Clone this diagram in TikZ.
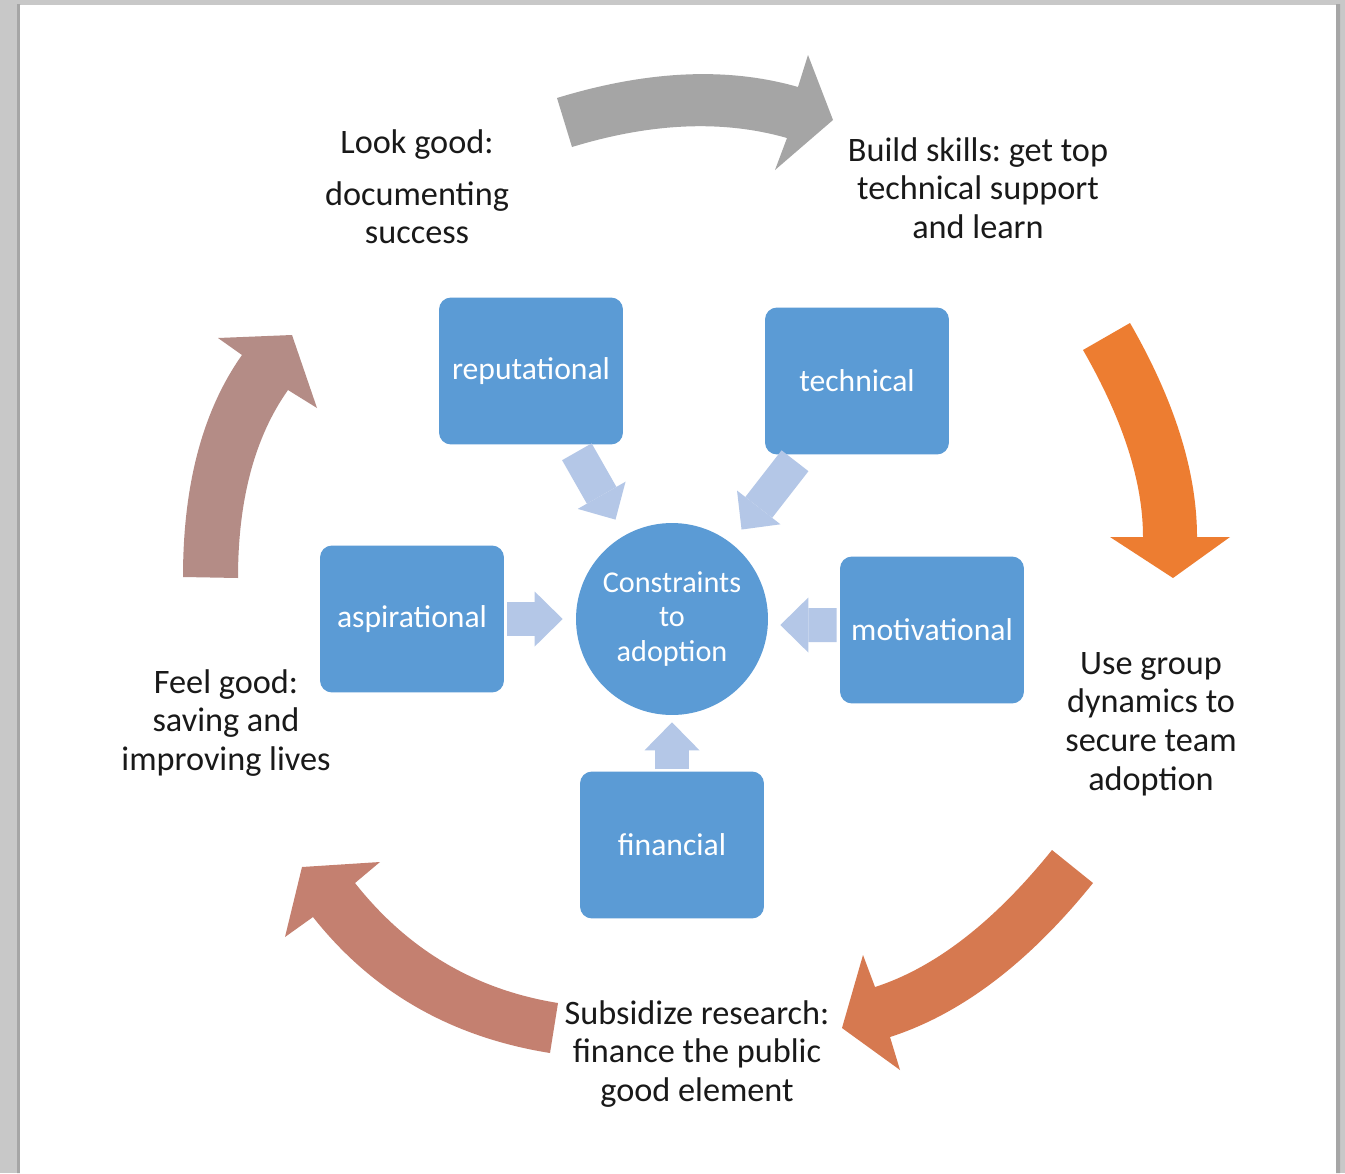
\documentclass[tikz,border=0pt]{standalone}
\usepackage{fontspec}
\setmainfont{Carlito}
\frenchspacing
\usetikzlibrary{arrows.meta}
\definecolor{boxblue}{RGB}{91,155,213}
\definecolor{feedblue}{RGB}{180,199,231}
\definecolor{cycgray}{RGB}{165,165,165}
\definecolor{cycorange}{RGB}{237,125,49}
\definecolor{cycrust}{RGB}{214,121,80}
\definecolor{cycsalmon}{RGB}{196,128,112}
\definecolor{cycmauve}{RGB}{180,140,134}
\definecolor{pagegray}{RGB}{200,200,200}

\begin{document}
\begin{tikzpicture}[x=0.02cm, y=-0.02cm,
    factor/.style={rectangle, rounded corners=0.24cm, fill=boxblue, text=white, minimum width=3.68cm, minimum height=2.94cm, font=\fontsize{18}{21.6}\selectfont},
    hub/.style={circle, fill=boxblue, text=white, minimum size=3.84cm, inner sep=0pt, align=center, font=\fontsize{17.2}{19.4}\selectfont},
    feed/.style={draw=feedblue, line width=0.68cm, -{Triangle[length=0.56cm, width=1.1cm, line width=0pt]}},
    note/.style={align=center, text=black!90, font=\fontsize{19.5}{22}\selectfont}]
                        \useasboundingbox (0,0) rectangle (1345,1173);
                        \fill[pagegray] (0,0) rectangle (1345,1173);
                        \fill[black!35] (17,4) rectangle (20,1173) (1336,4) rectangle (1340,1173);
                        \fill[white] (20,5) rectangle (1336,1173);
                        % cycle of block arrows
                        \fill[cycgray] (557,98) .. controls (647.1,70.4) and (727.4,66.7) .. (798,87) -- (808,55) -- (833,120) -- (775,170) -- (787,138) .. controls (723.1,119.7) and (651.5,122.7) .. (572,147) -- cycle;
                        \fill[cycorange] (1130,323) .. controls (1174.7,400.7) and (1197,472.1) .. (1197,537) -- (1230,537) -- (1173,578) -- (1110,537) -- (1143,537) .. controls (1143,481.9) and (1123,419.6) .. (1083,350) -- cycle;
                        \fill[cycrust] (1093,883) .. controls (1028.8,962.8) and (961.1,1014.1) .. (890,1037) -- (900,1070) -- (842,1028) -- (863,955) -- (875,987) .. controls (934.9,967.7) and (993.9,922.1) .. (1052,850) -- cycle;
                        \fill[cycsalmon] (550,1053) .. controls (451.1,1037.2) and (372.1,991.9) .. (313,917) -- (285,937) -- (302,867) -- (380,862) -- (355,883) .. controls (407.7,949.8) and (475.4,989.8) .. (558,1003) -- cycle;
                        \fill[cycmauve] (183,577) .. controls (183,484.6) and (202.7,410.6) .. (242,355) -- (218,338) -- (292,335) -- (317,408) -- (288,390) .. controls (254.7,437.1) and (238,499.8) .. (238,578) -- cycle;
                        \node[note] (lookgood) at (417,187) {Look good:\\[0.26cm] documenting\\ success};
                        \node[note] (buildskills) at (978,188) {Build skills: get top\\ technical support\\ and learn};
                        \node[note] (groupdyn) at (1151,724) {Use group\\ dynamics to\\ secure team\\ adoption};
                        \node[note] (subsidize) at (697,1054) {Subsidize research:\\ finance the public\\ good element};
                        \node[note] (feelgood) at (226,723) {Feel good:\\ saving and\\ improving lives};
                        % constraints
                        \node[hub] (constr) at (672,619) {Constraints\\ to\\ adoption};
                        \node[factor] (reput) at (531,371) {reputational};
                        \node[factor] (techn) at (857,381) {technical};
                        \node[factor] (aspir) at (412,619) {aspirational};
                        \node[factor] (motiv) at (932,630) {motivational};
                        \node[factor] (finan) at (672,845) {financial};
                        \draw[feed, shorten <=0.16cm, shorten >=0.36cm] (reput) -- (constr);
                        \draw[feed, shorten <=0.15cm, shorten >=0.34cm] (techn) -- (constr);
                        \draw[feed, shorten <=0.06cm, shorten >=0.26cm] (aspir) -- (constr);
                        \draw[feed, shorten <=0.06cm, shorten >=0.24cm] ([yshift=0.1cm]motiv.west) -- ([yshift=-0.12cm]constr.east);
                        \draw[feed, shorten <=0.04cm, shorten >=0.14cm] (finan) -- (constr);
                    \end{tikzpicture}
\end{document}
